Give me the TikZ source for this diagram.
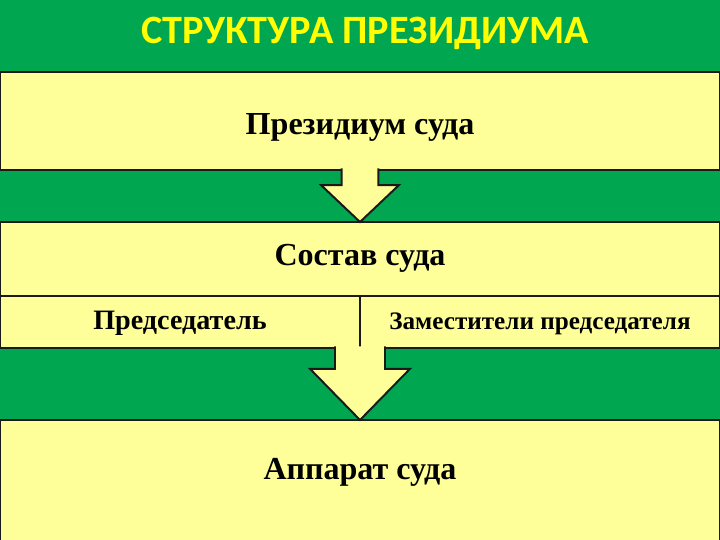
\documentclass[tikz,border=0pt]{standalone}
\usepackage{fontspec}
\setmainfont{Liberation Serif}
\newfontfamily\titlefont{Carlito}
\usetikzlibrary{positioning, calc}
\definecolor{boardgreen}{HTML}{00A650}
\definecolor{paleyellow}{HTML}{FFFF99}
\definecolor{titleyellow}{HTML}{FFFF00}
\definecolor{edgegray}{HTML}{1A1A1A}

\tikzset{
  panel/.style={draw=edgegray, line width=1.4pt, fill=paleyellow, minimum width=18cm,
                inner sep=0pt, outer sep=0pt, font=\bfseries\fontsize{22.8}{26}\selectfont},
  cell/.style={panel, minimum width=9cm, minimum height=1.3cm},
  paneltext/.style={font=\bfseries\fontsize{22.8}{26}\selectfont},
  blockarrow/.style={draw=edgegray, line width=1.4pt, fill=paleyellow, line join=miter}
}

\begin{document}
\begin{tikzpicture}[node distance=0cm]
  \fill[boardgreen] (0,0) rectangle (18,-13.5);
  \useasboundingbox (0,0) rectangle (18,-13.5);

  \node[font=\titlefont\bfseries\fontsize{28.6}{32}\selectfont, text=titleyellow]
        (title) at (9.13,-0.84) {СТРУКТУРА ПРЕЗИДИУМА};

  \node[panel, anchor=north, minimum height=2.45cm] (presidium) at (9,-1.8) {};
  \node[paneltext] (presidiumtext) at ($(presidium.north)+(0,-1.38)$) {Президиум суда};
  \node[panel, anchor=north, minimum height=1.85cm] (sostav) at (9,-5.55) {};
  \node[paneltext] (sostavtext) at ($(sostav.north)+(0,-0.9)$) {Состав суда};
  \node[cell, anchor=north west, font=\bfseries\fontsize{20}{24}\selectfont]
        (chair) at (sostav.south west) {};
  \node[font=\bfseries\fontsize{20}{24}\selectfont] (chairtext)
        at ($(chair.center)+(0,-0.04)$) {Председатель};
  \node[cell, anchor=north east] (deputies) at (sostav.south east) {};
  \node[font=\bfseries\fontsize{17.9}{21}\selectfont] (deputiestext)
        at ($(deputies.center)+(0,-0.04)$) {Заместители председателя};
  \node[panel, anchor=north, minimum height=3.4cm] (apparat) at (9,-10.5) {};
  \node[paneltext] (apparattext) at ($(apparat.north)+(0,-1.3)$) {Аппарат суда};

  % block arrows
  \draw[blockarrow] ($(presidium.south)+(-0.46,0.04)$) -- ($(presidium.south)+(-0.46,-0.38)$)
        -- ($(presidium.south)+(-0.97,-0.38)$) -- (sostav.north)
        -- ($(presidium.south)+(0.97,-0.38)$) -- ($(presidium.south)+(0.46,-0.38)$)
        -- ($(presidium.south)+(0.46,0.04)$);
  \draw[blockarrow] ($(chair.south east)+(-0.625,0.04)$) -- ($(chair.south east)+(-0.625,-0.52)$)
        -- ($(chair.south east)+(-1.25,-0.52)$) -- (apparat.north)
        -- ($(chair.south east)+(1.25,-0.52)$) -- ($(chair.south east)+(0.625,-0.52)$)
        -- ($(chair.south east)+(0.625,0.04)$);
\end{tikzpicture}
\end{document}
